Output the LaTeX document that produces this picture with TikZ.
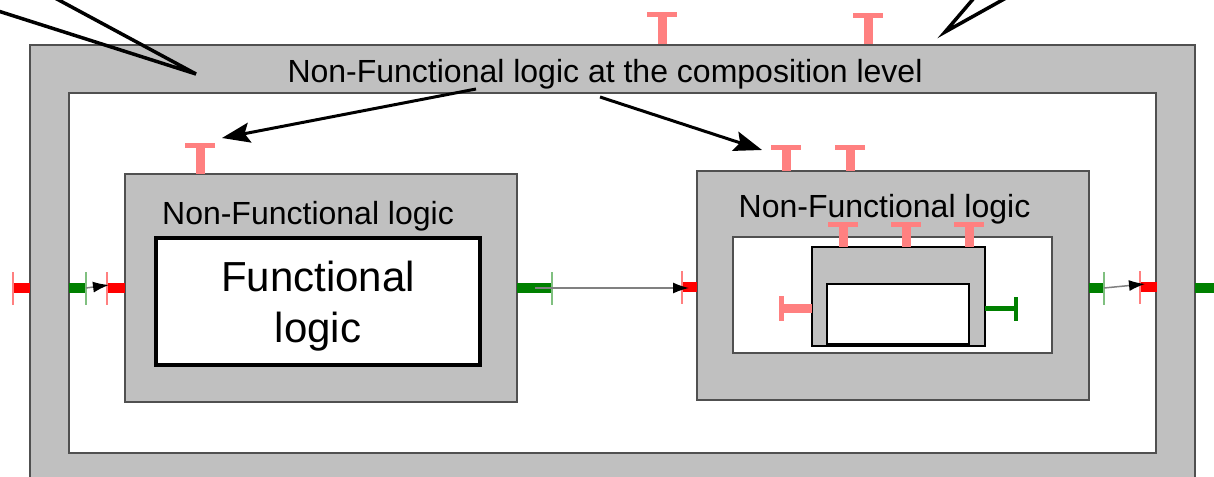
\documentclass[tikz,border=0pt]{standalone}
\usepackage{fontspec}
\setmainfont{Liberation Sans}
\usetikzlibrary{arrows.meta}
\definecolor{boxgray}{HTML}{C0C0C0}
\definecolor{edgegray}{HTML}{505050}
\definecolor{portred}{HTML}{FF0000}
\definecolor{portpink}{HTML}{FF8080}
\definecolor{portgreen}{HTML}{008000}
\definecolor{portlgreen}{HTML}{80C080}
\definecolor{wiregray}{HTML}{808080}
% vertical T port: x, y of box edge, y of crossbar top
\newcommand\MyTPort[3]{%
  \fill[portpink] ({#1-4.5},#2) rectangle ({#1+4.5},{#3+3});
  \fill[portpink] ({#1-15},#3) rectangle ({#1+15},{#3+5});}
% horizontal port: x edge, x end, y, fill colour, bar colour
\newcommand\MyHPort[5]{%
  \fill[#4] (#1,{#3-5}) rectangle (#2,{#3+5});
  \draw[#5, line width=1.5pt] (#2,{#3-16}) -- (#2,{#3+17});}
\begin{document}
\begin{tikzpicture}[x=1pt,y=-1pt,
  graybox/.style={draw=edgegray, line width=1.4pt, fill=boxgray, rectangle, inner sep=0pt},
  whitebox/.style={draw=edgegray, line width=1.4pt, fill=white, rectangle, inner sep=0pt},
  funcbox/.style={draw=black, line width=3.5pt, fill=white, rectangle, inner sep=0pt},
  subbox/.style={draw=black, line width=1.5pt, fill=boxgray, rectangle, inner sep=0pt},
  subwhite/.style={draw=black, line width=2pt, fill=white, rectangle, inner sep=0pt},
  lbl/.style={font=\fontsize{32}{38}\selectfont, inner sep=0pt, anchor=base},
  wire/.style={draw=wiregray, line width=1.5pt, -{Latex[length=16pt,width=11pt,color=black]}},
  callout/.style={draw=black, line width=3pt, -{Stealth[length=28pt,width=20pt,inset=5pt]}},
  pointer/.style={draw=black, line width=3.5pt, line join=miter}]
\useasboundingbox (0,0) rectangle (1214,476);
\clip (0,0) rectangle (1214,476);
% outer composite
\node[graybox, minimum width=1165pt, minimum height=480pt] (outer) at (612.5,285) {};
\node[whitebox, minimum width=1087pt, minimum height=360pt] (inner) at (612.5,273) {};
\node[lbl] (title) at (605,83) {Non-Functional logic at the composition level};
% left component
\node[graybox, minimum width=392pt, minimum height=228pt] (lcomp) at (321,288) {};
\node[lbl] (llabel) at (308,224) {Non-Functional logic};
\node[funcbox, minimum width=324pt, minimum height=127pt] (func) at (318,301.5) {};
\node[font=\fontsize{42}{51}\selectfont, align=center, inner sep=0pt] (ftext) at (318,306.6) {Functional\\logic};
% right component
\node[graybox, minimum width=392pt, minimum height=229pt] (rcomp) at (893,285.5) {};
\node[lbl] (rlabel) at (884.5,217) {Non-Functional logic};
\node[whitebox, line width=1.2pt, minimum width=319pt, minimum height=116pt] (rinner) at (892.5,295) {};
\node[subbox, minimum width=173pt, minimum height=99pt] (sub) at (898.5,296.5) {};
\node[subwhite, minimum width=142pt, minimum height=60pt] (subin) at (898,314) {};
% top T ports
\MyTPort{662}{44}{12}
\MyTPort{868}{44}{13}
\MyTPort{200}{174}{143}
\MyTPort{786}{171}{145}
\MyTPort{850}{171}{145}
\MyTPort{843}{247}{222}
\MyTPort{906}{247}{222}
\MyTPort{969}{247}{222}
% side ports of sub component
\fill[portpink] (812,304) rectangle (784,313);
\fill[portpink] (779,296) rectangle (784,321);
\fill[portgreen] (985,305.5) rectangle (1016,310.5);
\fill[portgreen] (1014,297) rectangle (1018,321);
% horizontal ports along the data path
\MyHPort{30}{13}{288}{portred}{portpink}
\MyHPort{69}{86}{288}{portgreen}{portlgreen}
\MyHPort{125}{107}{288}{portred}{portpink}
\MyHPort{517}{552}{288}{portgreen}{portlgreen}
\MyHPort{697}{682}{287}{portred}{portpink}
\MyHPort{1089}{1104}{288}{portgreen}{portlgreen}
\MyHPort{1157}{1140}{287}{portred}{portpink}
\fill[portgreen] (1195,283) rectangle (1214,293);
% data wires
\coordinate (w1s) at (86,288);  \coordinate (w1e) at (109,285);
\coordinate (w2s) at (535,288); \coordinate (w2e) at (689,288);
\coordinate (w3s) at (1104,288); \coordinate (w3e) at (1145,284);
\draw[wire] (w1s) -- (w1e);
\draw[wire] (w2s) -- (w2e);
\draw[wire] (w3s) -- (w3e);
% callout arrows from the title
\coordinate (c1s) at (476,89);  \coordinate (c1e) at (222,138);
\coordinate (c2s) at (600,97);  \coordinate (c2e) at (762,150);
\draw[callout] (c1s) -- (c1e);
\draw[callout] (c2s) -- (c2e);
% pointers from outside
\coordinate (p1) at (196,74);
\coordinate (p1a) at (-5,10);
\coordinate (p1b) at (55,-2);
\draw[pointer] (p1a) -- (p1) -- (p1b);
\coordinate (p2) at (945,32);
\coordinate (p2a) at (974,-2);
\coordinate (p2b) at (1006,-2);
\draw[pointer] (p2a) -- (p2) -- (p2b);
\end{tikzpicture}
\end{document}
